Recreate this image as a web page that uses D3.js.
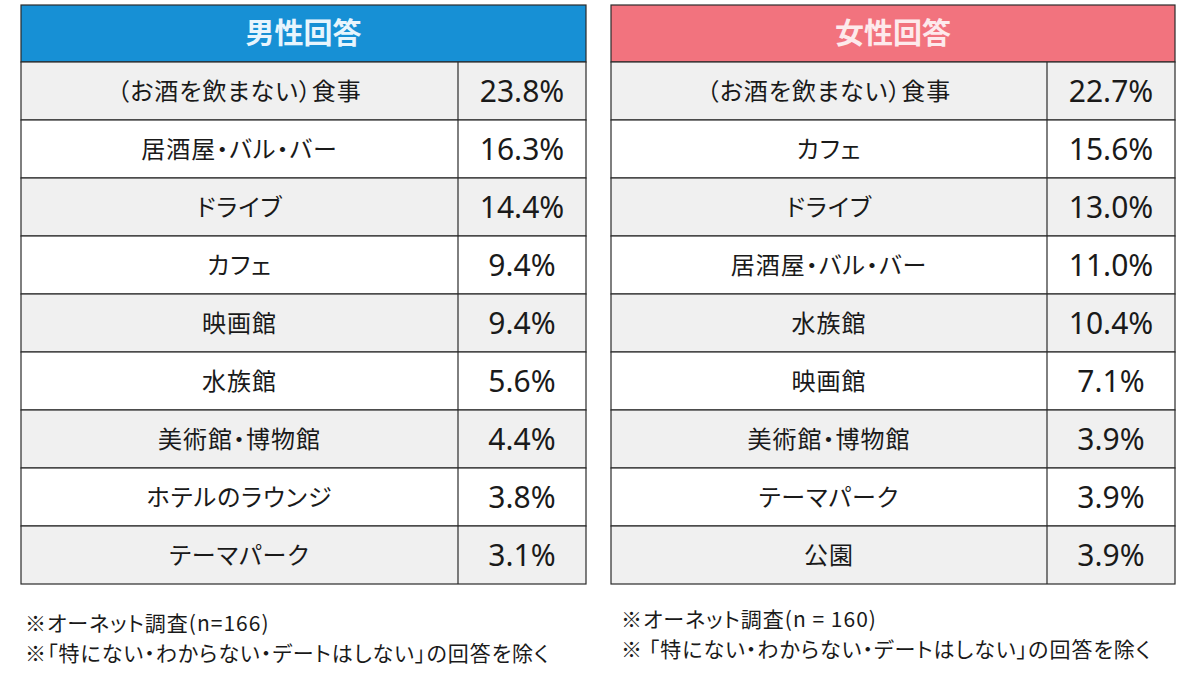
<!DOCTYPE html>
<html>
<head>
<meta charset="utf-8">
<script src="https://cdn.jsdelivr.net/npm/d3@7"></script>
<style>
  html, body { margin: 0; padding: 0; background: #fff; }
  svg { display: block; }
  .jp { font-feature-settings: "palt" 1; }
</style>
</head>
<body>
<svg id="chart" width="1188" height="675"></svg>
<script>
// Data
const maleTitle = "男性回答";
const maleLabels = ["（お酒を飲まない）食事", "居酒屋・バル・バー", "ドライブ", "カフェ", "映画館", "水族館", "美術館・博物館", "ホテルのラウンジ", "テーマパーク"];
const maleValues = [23.8, 16.3, 14.4, 9.4, 9.4, 5.6, 4.4, 3.8, 3.1];
const maleNotes = ["※オーネット調査(n=166)", "※「特にない・わからない・デートはしない」の回答を除く"];

const femaleTitle = "女性回答";
const femaleLabels = ["（お酒を飲まない）食事", "カフェ", "ドライブ", "居酒屋・バル・バー", "水族館", "映画館", "美術館・博物館", "テーマパーク", "公園"];
const femaleValues = [22.7, 15.6, 13.0, 11.0, 10.4, 7.1, 3.9, 3.9, 3.9];
const femaleNotes = ["※オーネット調査(n = 160)", "※ 「特にない・わからない・デートはしない」の回答を除く"];

const svg = d3.select("#chart");
const jp = "'Noto Sans CJK JP', 'Noto Sans', sans-serif";
const num = "'Noto Sans', 'Open Sans', sans-serif";

function drawTable(opts) {
    const g = svg.append("g");
    const rows = opts.labels.map((d, i) => ({ label: d, value: opts.values[i] }));

    // rows sit in a band scale below the header
    const y = d3.scaleBand()
        .domain(d3.range(rows.length))
        .range([opts.headTop + opts.headH, opts.bottom]);

    const xs = { left: opts.left, split: opts.split, right: opts.right };

    // header
    g.append("rect")
        .attr("x", xs.left).attr("y", opts.headTop)
        .attr("width", xs.right - xs.left).attr("height", opts.headH)
        .attr("fill", opts.headColor)
        .attr("stroke", "#2b2b2b").attr("stroke-width", 1.2);

    g.append("text")
        .attr("class", "jp")
        .attr("x", (xs.left + xs.right) / 2)
        .attr("y", opts.headTop + opts.headH / 2)
        .attr("dy", "0.36em")
        .attr("text-anchor", "middle")
        .attr("font-family", jp)
        .attr("font-weight", 700)
        .attr("font-size", 29)
        .attr("fill", opts.headText)
        .text(opts.title);

    const row = g.selectAll(".row").data(rows).enter()
        .append("g").attr("class", "row");

    row.append("rect")
        .attr("x", xs.left)
        .attr("y", (d, i) => y(i))
        .attr("width", xs.right - xs.left)
        .attr("height", y.bandwidth())
        .attr("fill", (d, i) => i % 2 === 0 ? "#f0f0f0" : "#ffffff")
        .attr("stroke", "#2b2b2b").attr("stroke-width", 1.2);

    row.append("line")
        .attr("x1", xs.split).attr("x2", xs.split)
        .attr("y1", (d, i) => y(i))
        .attr("y2", (d, i) => y(i) + y.bandwidth())
        .attr("stroke", "#2b2b2b").attr("stroke-width", 1.2);

    row.append("text")
        .attr("class", "jp")
        .attr("x", (xs.left + xs.split) / 2)
        .attr("y", (d, i) => y(i) + y.bandwidth() / 2)
        .attr("dy", "0.36em")
        .attr("text-anchor", "middle")
        .attr("font-family", jp)
        .attr("font-size", 24)
        .attr("letter-spacing", 1)
        .attr("fill", "#1a1a1a")
        .text(d => d.label);

    row.append("text")
        .attr("x", (xs.split + xs.right) / 2)
        .attr("y", (d, i) => y(i) + y.bandwidth() / 2)
        .attr("dy", "0.36em")
        .attr("text-anchor", "middle")
        .attr("font-family", num)
        .attr("font-weight", 400)
        .attr("font-size", 30)
        .attr("fill", "#1a1a1a")
        .text(d => d.value.toFixed(1) + "%");

    // footnotes
    g.selectAll(".note").data(opts.notes).enter()
        .append("text")
        .attr("class", "note jp")
        .attr("x", opts.noteX)
        .attr("y", (d, i) => opts.noteY + i * 30)
        .attr("dy", "0.36em")
        .attr("font-family", jp)
        .attr("font-size", 21)
        .attr("letter-spacing", 1)
        .attr("fill", "#1a1a1a")
        .text(d => d);
}

drawTable({
    title: maleTitle, labels: maleLabels, values: maleValues, notes: maleNotes,
    left: 21, split: 458, right: 586, headTop: 5, headH: 57, bottom: 584,
    headColor: "#1790d5", headText: "#e8f5fd", noteX: 25, noteY: 623
});

drawTable({
    title: femaleTitle, labels: femaleLabels, values: femaleValues, notes: femaleNotes,
    left: 611, split: 1047, right: 1175, headTop: 5, headH: 57, bottom: 584,
    headColor: "#f2737e", headText: "#fdeaec", noteX: 621, noteY: 619
});
</script>
</body>
</html>
